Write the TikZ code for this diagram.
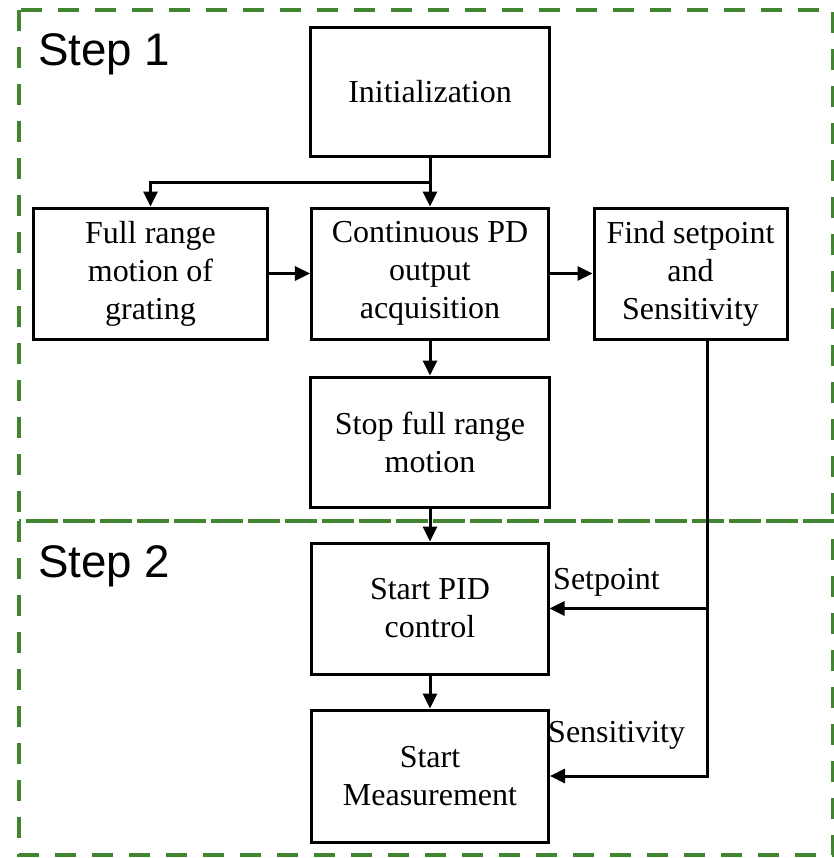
\documentclass[tikz,border=0pt]{standalone}
\usepackage{fontspec}
\setmainfont{Liberation Serif}
\newfontfamily\stepfont{Liberation Sans}
\usepackage{tikz}
\usepackage{xcolor}
\usetikzlibrary{arrows.meta}
\definecolor{stepgreen}{RGB}{66,133,48}
\tikzstyle{boxes} = [rectangle, draw=black, line width=0.09cm, align=center,
font=\fontsize{27.3}{32.4}\selectfont, inner sep=0pt]
\tikzstyle{arrow} = [line width=0.09cm, -{Triangle[length=0.45cm, width=0.42cm]}]
\tikzstyle{stepframe} = [draw=stepgreen, line width=0.12cm, dash pattern=on 0.63cm off 0.48cm]
\tikzstyle{steplabel} = [anchor=base west, inner sep=0pt, font=\stepfont\fontsize{39}{45}\selectfont]
\tikzstyle{sidelabel} = [anchor=base west, inner sep=0pt, font=\fontsize{27.3}{32.4}\selectfont]

\begin{document}
\begin{tikzpicture}[x=0.03cm, y=-0.03cm]
            \useasboundingbox (0,0) rectangle (834,858);
            % Draw Steps
            \draw[stepframe] (19,10) rectangle (833,521);
            \draw[stepframe] (19,521) rectangle (833,855);
            \node(step1) [steplabel] at (38,65) {Step 1};
            \node(step2) [steplabel] at (38,577) {Step 2};

            % Draw Boxes
            \node(init) [boxes, minimum width=7.14cm, minimum height=3.87cm] at (430,91.5) {Initialization};
            \node(full) [boxes, minimum width=6.99cm, minimum height=3.93cm] at (150.5,273.5) {Full range\\motion of\\grating};
            \node(cont) [boxes, minimum width=7.11cm, minimum height=3.93cm] at (430,273.5) {Continuous PD\\output\\acquisition};
            \node(find) [boxes, minimum width=5.79cm, minimum height=3.93cm] at (690.5,273.5) {Find setpoint\\and\\Sensitivity};
            \node(stop) [boxes, minimum width=7.14cm, minimum height=3.9cm] at (430,442) {Stop full range\\motion};
            \node(pid) [boxes, minimum width=7.08cm, minimum height=3.93cm] at (430,608.5) {Start PID\\control};
            \node(meas) [boxes, minimum width=7.11cm, minimum height=3.96cm] at (430,776) {Start\\Measurement};

            % Draw Arrows
            \coordinate(split) at (430,182);
            \coordinate(drop) at (707,339);
            \coordinate(tap) at (707,608.5);
            \draw[arrow] (init) -- (cont);
            \draw[arrow] (split) -| (full.north);
            \draw[arrow] (full) -- (cont);
            \draw[arrow] (cont) -- (find);
            \draw[arrow] (cont) -- (stop);
            \draw[arrow] (stop) -- (pid);
            \draw[arrow] (pid) -- (meas);
            \draw[arrow] (drop) |- (meas.east);
            \draw[arrow] (tap) -- (pid.east);
            \node(setlabel) [sidelabel] at (553,589) {Setpoint};
            \node(senslabel) [sidelabel] at (548,742) {Sensitivity};
        \end{tikzpicture}
\end{document}
